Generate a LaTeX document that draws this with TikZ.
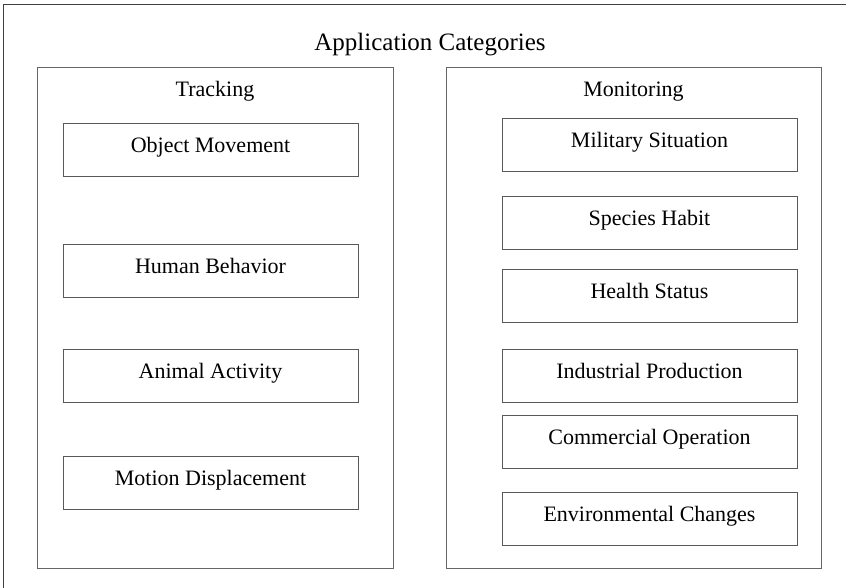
\documentclass[tikz,border=0pt]{standalone}
\usepackage{fontspec}
\setmainfont{Liberation Serif}
\usepackage{tikz}
\usetikzlibrary{positioning}
\tikzset{%
	frame/.style    = {draw=black!75, line width=1.2pt},
	group/.style    = {draw=black!60, line width=0.9pt, rectangle, minimum width=356pt, minimum height=501pt, inner sep=0pt},
	grouptitle/.style = {anchor=base, font=\fontsize{22}{26}\selectfont},
	item/.style     = {draw=black!65, line width=0.9pt, rectangle, minimum width=295pt, minimum height=53pt, inner sep=0pt, text centered, text height=0.75em, text depth=0.2em, font=\fontsize{22}{26}\selectfont},
}
\begin{document}
\begin{tikzpicture}[x=1pt,y=-1pt]
	\useasboundingbox (0,0) rectangle (846,588);
	\draw[frame] (3.5,588) -- (3.5,4.5) -- (846,4.5);
	\node[anchor=base, font=\fontsize{25}{30}\selectfont] (title) at (430,51) {Application Categories};
	
	% tracking
	\node[group] (tracking) at (215,317.5) {};
	\node[grouptitle] (trackingtitle) at (215,97) {Tracking};
	\node[item] (object) at (210.5,149.5) {Object Movement};
	\node[item] (human) at (210.5,270.5) {Human Behavior};
	\node[item] (animal) at (210.5,376) {Animal Activity};
	\node[item] (motion) at (210.5,482.5) {Motion Displacement};
	
	% monitoring
	\node[group, minimum width=375pt] (monitoring) at (633.5,317.5) {};
	\node[grouptitle] (monitoringtitle) at (633.5,97) {Monitoring};
	\node[item] (military) at (649.5,145) {Military Situation};
	\node[item] (species) at (649.5,223) {Species Habit};
	\node[item] (health) at (649.5,295.5) {Health Status};
	\node[item] (industrial) at (649.5,375.5) {Industrial Production};
	\node[item] (commercial) at (649.5,442) {Commercial Operation};
	\node[item] (environmental) at (649.5,518.5) {Environmental Changes};
\end{tikzpicture}
\end{document}
